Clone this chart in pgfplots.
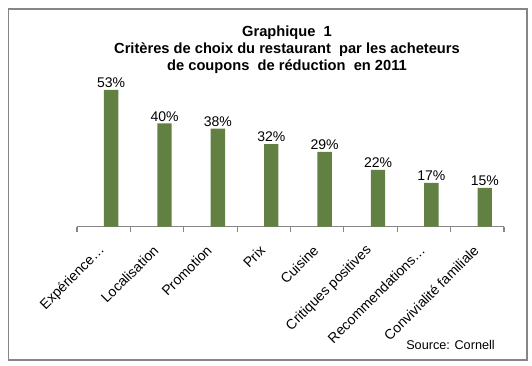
\documentclass[border=0pt]{standalone}
\usepackage{pgfplots}
\pgfplotsset{compat=1.18}
\usepackage{fontspec}
\setmainfont{Liberation Sans}
\definecolor{barg}{RGB}{98,128,65}
\definecolor{framegray}{RGB}{134,134,134}
\begin{document}
\begin{tikzpicture}[x=0.75pt,y=-0.75pt]
\useasboundingbox (0,0) rectangle (532,366);
\draw[framegray, line width=1.1pt] (8.5,9) rectangle (527,360);
\coordinate (A) at (77,226.6);
\begin{axis}[
  at={(A)}, anchor=south west,
  scale only axis,
  width=320.25pt, height=116pt,
  xmin=-0.5, xmax=7.5, ymin=0, ymax=60,
  axis x line*=bottom, axis y line=none,
  axis line style={framegray, line width=0.8pt},
  ybar, bar width=10.8pt, bar shift=5.6pt,
  xtick={0,...,7},
  xticklabels={Expérience…,Localisation,Promotion,Prix,Cuisine,Critiques positives,Recommendations…,Convivialité familiale},
  major tick length=0pt,
  minor xtick={-0.5,0.5,...,7.5},
  minor tick length=3.75pt,
  tick align=outside,
  minor tick style={framegray, line width=0.8pt},
  x tick label style={xshift=-0.85pt, yshift=-16pt, rotate=45, anchor=east, font=\fontsize{10.5}{12}\selectfont, inner sep=0pt},
  /pgf/number format/assume math mode=true,
  nodes near coords={\pgfmathprintnumber{\pgfplotspointmeta}\%},
  every node near coord/.append style={font=\fontsize{10.5}{12}\selectfont, black, inner sep=1.5pt},
  clip=false,
]
\addplot[fill=barg, draw=none] coordinates {(0,53) (1,40) (2,38) (3,32) (4,29) (5,22) (6,17) (7,15)};
\end{axis}
\node[align=center, font=\fontsize{11}{12.75}\selectfont\bfseries] at (287,50) {Graphique\ \ 1\\Critères de choix du restaurant\ \ par les acheteurs\\de coupons\ \ de réduction\ \ en 2011};
\node[anchor=east, font=\fontsize{9.5}{11}\selectfont, inner sep=0pt] at (495,345) {Source: Cornell};
\end{tikzpicture}
\end{document}
